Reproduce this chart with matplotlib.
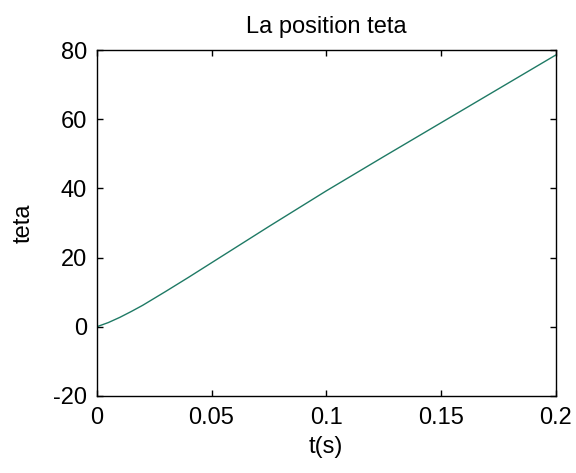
import matplotlib
matplotlib.use("Agg")
import matplotlib.pyplot as plt

plt.rcParams["font.family"] = ["Liberation Sans", "DejaVu Sans"]
plt.rcParams["axes.unicode_minus"] = False

# values
t_values = [0.0, 0.005, 0.01, 0.015, 0.02, 0.03, 0.04, 0.05, 0.075, 0.1, 0.125, 0.15, 0.175, 0.2]
teta_values = [0.0, 1.2, 2.7, 4.4, 6.2, 10.2, 14.3, 18.5, 29.0, 39.3, 49.2, 59.0, 68.8, 78.6]
x_ticks = [0, 0.05, 0.1, 0.15, 0.2]
x_tick_labels = ["0", "0.05", "0.1", "0.15", "0.2"]
y_ticks = [-20, 0, 20, 40, 60, 80]

fig = plt.figure(figsize=(5.76, 4.73), dpi=100)
ax = fig.add_axes([0.168, 0.163, 0.797, 0.731])
ax.plot(t_values, teta_values, color="#1f7a65", linewidth=1.0)

ax.set_xlim(0, 0.2)
ax.set_ylim(-20, 80)
ax.set_xticks(x_ticks)
ax.set_xticklabels(x_tick_labels)
ax.set_yticks(y_ticks)
ax.tick_params(direction="in", top=True, right=True, length=4, width=1.0,
               labelsize=17)
ax.tick_params(axis="x", pad=8)
ax.tick_params(axis="y", pad=7)
for spine in ax.spines.values():
    spine.set_linewidth(1.0)

ax.set_title("La position teta", fontsize=17, pad=12.5)
ax.set_xlabel("t(s)", fontsize=17, labelpad=5)
ax.set_ylabel("teta", fontsize=17, labelpad=13)

fig.savefig("out.png", dpi=100, facecolor="white")
